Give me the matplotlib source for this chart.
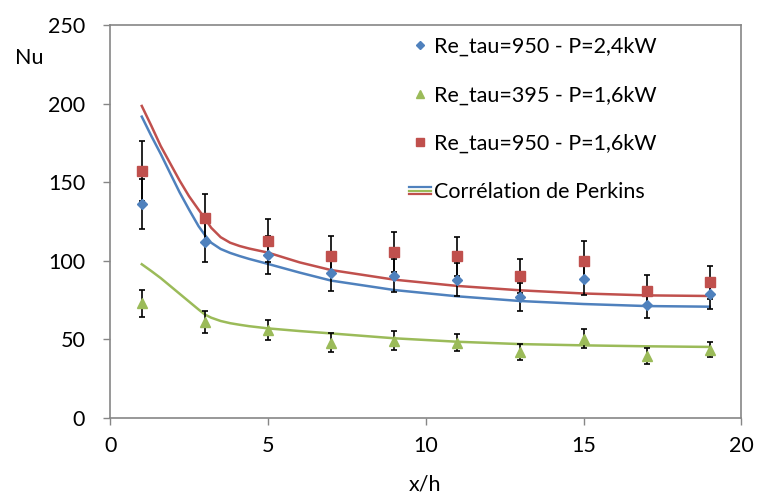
import matplotlib.pyplot as plt
from matplotlib.lines import Line2D
from matplotlib.legend_handler import HandlerBase

plt.rcParams['font.family'] = ['Lato', 'DejaVu Sans']

# Mesures
x_pts = [1, 3, 5, 7, 9, 11, 13, 15, 17, 19]
nu_950_24 = [136, 112, 103.5, 92, 90.5, 88, 77, 88.5, 72, 79]
err_950_24 = [16, 13, 12, 11, 10.5, 10.5, 9, 10.5, 8.7, 9.7]
nu_395_16 = [73, 61.3, 56, 48, 49.2, 48, 42, 50.4, 39.6, 43.5]
err_395_16 = [8.7, 7, 6.5, 6, 6, 5.5, 5, 6, 5, 5]
nu_950_16 = [157.3, 127.2, 112.8, 103.2, 105.4, 102.8, 90.3, 100, 81, 86.3]
err_950_16 = [19, 15, 13.6, 12.4, 12.6, 12.3, 10.8, 12.4, 10, 10.6]

# Correlation de Perkins
x_corr = [1, 1.3, 1.6, 1.9, 2.2, 2.5, 2.8, 3, 3.2, 3.5, 3.8, 4.1, 4.4, 5, 6,
          7, 9, 11, 13, 15, 17, 19]
perk_950_24 = [191.7, 179.5, 168, 155.7, 143.5, 132.5, 122, 116.4, 111.5,
               107.5, 105, 103, 101.2, 98, 92.5, 87.4, 81.4, 77.4, 74.4,
               72.5, 71.2, 70.8]
perk_395_16 = [97.8, 93.5, 89, 84, 79, 74, 69, 65.8, 63.8, 61.7, 60.3, 59.3,
               58.4, 57, 55.3, 53.8, 50.7, 48.5, 47, 46.2, 45.6, 45.2]
perk_950_16 = [198.5, 186, 173, 162, 151, 141, 132.5, 127, 121, 115, 111.5,
               109.4, 107.8, 105.2, 99, 94.1, 88, 84, 81.2, 79.2, 78, 77.6]

blue = '#4F81BD'
red = '#C0504D'
green = '#9BBB59'
grey = '#868686'


class ThreeLines:
    pass


class HandlerThreeLines(HandlerBase):
    def create_artists(self, legend, orig_handle, xdescent, ydescent,
                       width, height, fontsize, trans):
        arts = []
        for i, c in enumerate([blue, green, red]):
            y = height / 2 + (1 - i) * 2.2 - ydescent
            l = Line2D([-xdescent, -xdescent + width], [y, y], color=c, lw=1.6)
            l.set_transform(trans)
            arts.append(l)
        return arts


fig = plt.figure(figsize=(7.57, 4.96), dpi=100)
ax = fig.add_axes([0.1456, 0.1573, 0.8337, 0.7923])

ax.plot(x_corr, perk_950_24, color=blue, lw=1.8, zorder=2)
ax.plot(x_corr, perk_395_16, color=green, lw=1.8, zorder=2)
ax.plot(x_corr, perk_950_16, color=red, lw=1.8, zorder=2)

ax.errorbar(x_pts, nu_950_24, yerr=err_950_24, fmt='D', color=blue, ms=5.5,
            ecolor='black', elinewidth=1.2, capsize=2.5, capthick=1.2, zorder=3)
ax.errorbar(x_pts, nu_395_16, yerr=err_395_16, fmt='^', color=green, ms=7,
            ecolor='black', elinewidth=1.2, capsize=2.5, capthick=1.2, zorder=3)
ax.errorbar(x_pts, nu_950_16, yerr=err_950_16, fmt='s', color=red, ms=6.5,
            ecolor='black', elinewidth=1.2, capsize=2.5, capthick=1.2, zorder=3)

ax.set_xlim(0, 20)
ax.set_ylim(0, 250)
ax.set_xticks([0, 5, 10, 15, 20])
ax.set_yticks([0, 50, 100, 150, 200, 250])
for s in ax.spines.values():
    s.set_color(grey)
    s.set_linewidth(1.2)
ax.tick_params(direction='out', length=5, width=1, color=grey, labelsize=15.5,
               labelcolor='black')
ax.tick_params(axis='y', pad=13)
ax.tick_params(axis='x', pad=8)

fig.text(0.02, 0.87, 'Nu', fontsize=15.5)
fig.text(0.562, 0.012, 'x/h', fontsize=15.5, ha='center')

h1 = Line2D([], [], marker='D', color=blue, ls='none', ms=4.5)
h2 = Line2D([], [], marker='^', color=green, ls='none', ms=6)
h3 = Line2D([], [], marker='s', color=red, ls='none', ms=6)
h4 = ThreeLines()
ax.legend([h1, h2, h3, h4],
          ['Re_tau=950 - P=2,4kW', 'Re_tau=395 - P=1,6kW',
           'Re_tau=950 - P=1,6kW', 'Corrélation de Perkins'],
          handler_map={ThreeLines: HandlerThreeLines()},
          loc='upper left', bbox_to_anchor=(0.455, 1.0), frameon=False,
          fontsize=15.5, labelspacing=1.32, handlelength=1.0,
          handletextpad=0.15, borderaxespad=0.15)

fig.savefig('out.png', dpi=100)
